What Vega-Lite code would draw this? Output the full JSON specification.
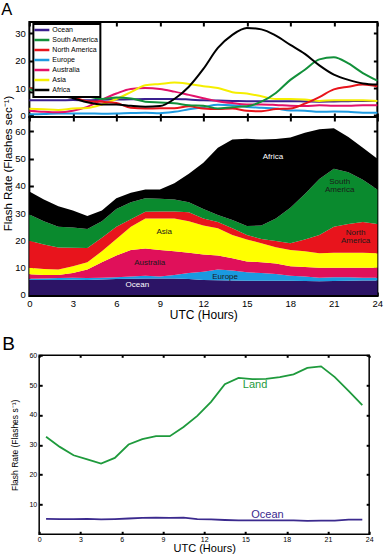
{
 "$schema": "https://vega.github.io/schema/vega-lite/v6.json",
 "padding": {"left": 0, "top": 0, "right": 0, "bottom": 0},
 "background": "white",
 "config": {
  "font": "Liberation Sans",
  "axis": {"domain": false, "grid": false, "tickColor": "black", "labelColor": "black", "titleColor": "black", "titleFontWeight": "normal", "labelFlush": false, "labelOverlap": false},
  "title": {"fontWeight": "normal", "color": "black", "anchor": "start", "frame": "group", "baseline": "alphabetic"},
  "view": {"stroke": "black"}
 },
 "datasets": {
  "regions": [
   {"hour":0,"region":"Ocean","rate":5.5},{"hour":0,"region":"Europe","rate":0.4},{"hour":0,"region":"Australia","rate":1.7},{"hour":0,"region":"Asia","rate":2.4},{"hour":0,"region":"North America","rate":9.9},{"hour":0,"region":"South America","rate":9.6},{"hour":0,"region":"Africa","rate":8.5},
   {"hour":1,"region":"Ocean","rate":5.5},{"hour":1,"region":"Europe","rate":0.5},{"hour":1,"region":"Australia","rate":1.3},{"hour":1,"region":"Asia","rate":2.2},{"hour":1,"region":"North America","rate":9.0},{"hour":1,"region":"South America","rate":8.5},{"hour":1,"region":"Africa","rate":8.0},
   {"hour":2,"region":"Ocean","rate":5.5},{"hour":2,"region":"Europe","rate":0.7},{"hour":2,"region":"Australia","rate":1.1},{"hour":2,"region":"Asia","rate":2.0},{"hour":2,"region":"North America","rate":8.1},{"hour":2,"region":"South America","rate":7.6},{"hour":2,"region":"Africa","rate":7.5},
   {"hour":3,"region":"Ocean","rate":5.6},{"hour":3,"region":"Europe","rate":0.7},{"hour":3,"region":"Australia","rate":1.7},{"hour":3,"region":"Asia","rate":2.5},{"hour":3,"region":"North America","rate":6.8},{"hour":3,"region":"South America","rate":7.4},{"hour":3,"region":"Africa","rate":6.3},
   {"hour":4,"region":"Ocean","rate":5.5},{"hour":4,"region":"Europe","rate":0.7},{"hour":4,"region":"Australia","rate":3.1},{"hour":4,"region":"Asia","rate":2.7},{"hour":4,"region":"North America","rate":5.2},{"hour":4,"region":"South America","rate":7.0},{"hour":4,"region":"Africa","rate":4.8},
   {"hour":5,"region":"Ocean","rate":5.7},{"hour":5,"region":"Europe","rate":0.6},{"hour":5,"region":"Australia","rate":5.7},{"hour":5,"region":"Asia","rate":4.0},{"hour":5,"region":"North America","rate":5.0},{"hour":5,"region":"South America","rate":6.0},{"hour":5,"region":"Africa","rate":4.0},
   {"hour":6,"region":"Ocean","rate":5.8},{"hour":6,"region":"Europe","rate":0.7},{"hour":6,"region":"Australia","rate":8.0},{"hour":6,"region":"Asia","rate":6.0},{"hour":6,"region":"North America","rate":4.5},{"hour":6,"region":"South America","rate":6.5},{"hour":6,"region":"Africa","rate":4.0},
   {"hour":7,"region":"Ocean","rate":5.9},{"hour":7,"region":"Europe","rate":0.9},{"hour":7,"region":"Australia","rate":9.7},{"hour":7,"region":"Asia","rate":8.5},{"hour":7,"region":"North America","rate":2.8},{"hour":7,"region":"South America","rate":6.2},{"hour":7,"region":"Africa","rate":3.5},
   {"hour":8,"region":"Ocean","rate":6.0},{"hour":8,"region":"Europe","rate":1.0},{"hour":8,"region":"Australia","rate":10.0},{"hour":8,"region":"Asia","rate":11.0},{"hour":8,"region":"North America","rate":2.5},{"hour":8,"region":"South America","rate":5.0},{"hour":8,"region":"Africa","rate":3.2},
   {"hour":9,"region":"Ocean","rate":6.0},{"hour":9,"region":"Europe","rate":0.8},{"hour":9,"region":"Australia","rate":9.7},{"hour":9,"region":"Asia","rate":11.5},{"hour":9,"region":"North America","rate":2.6},{"hour":9,"region":"South America","rate":4.7},{"hour":9,"region":"Africa","rate":3.4},
   {"hour":10,"region":"Ocean","rate":6.0},{"hour":10,"region":"Europe","rate":1.3},{"hour":10,"region":"Australia","rate":8.7},{"hour":10,"region":"Asia","rate":12.0},{"hour":10,"region":"North America","rate":2.6},{"hour":10,"region":"South America","rate":4.4},{"hour":10,"region":"Africa","rate":6.0},
   {"hour":11,"region":"Ocean","rate":5.8},{"hour":11,"region":"Europe","rate":2.2},{"hour":11,"region":"Australia","rate":7.5},{"hour":11,"region":"Asia","rate":11.5},{"hour":11,"region":"North America","rate":3.3},{"hour":11,"region":"South America","rate":3.7},{"hour":11,"region":"Africa","rate":10.5},
   {"hour":12,"region":"Ocean","rate":5.5},{"hour":12,"region":"Europe","rate":3.0},{"hour":12,"region":"Australia","rate":6.3},{"hour":12,"region":"Asia","rate":10.7},{"hour":12,"region":"North America","rate":2.5},{"hour":12,"region":"South America","rate":3.5},{"hour":12,"region":"Africa","rate":17.0},
   {"hour":13,"region":"Ocean","rate":5.4},{"hour":13,"region":"Europe","rate":3.9},{"hour":13,"region":"Australia","rate":5.2},{"hour":13,"region":"Asia","rate":10.0},{"hour":13,"region":"North America","rate":2.3},{"hour":13,"region":"South America","rate":2.5},{"hour":13,"region":"Africa","rate":24.7},
   {"hour":14,"region":"Ocean","rate":5.3},{"hour":14,"region":"Europe","rate":3.7},{"hour":14,"region":"Australia","rate":4.5},{"hour":14,"region":"Asia","rate":8.5},{"hour":14,"region":"North America","rate":2.5},{"hour":14,"region":"South America","rate":3.0},{"hour":14,"region":"Africa","rate":29.5},
   {"hour":15,"region":"Ocean","rate":5.2},{"hour":15,"region":"Europe","rate":3.1},{"hour":15,"region":"Australia","rate":4.0},{"hour":15,"region":"Asia","rate":8.0},{"hour":15,"region":"North America","rate":1.7},{"hour":15,"region":"South America","rate":3.3},{"hour":15,"region":"Africa","rate":32.0},
   {"hour":16,"region":"Ocean","rate":5.2},{"hour":16,"region":"Europe","rate":2.8},{"hour":16,"region":"Australia","rate":4.0},{"hour":16,"region":"Asia","rate":7.0},{"hour":16,"region":"North America","rate":1.5},{"hour":16,"region":"South America","rate":5.0},{"hour":16,"region":"Africa","rate":31.5},
   {"hour":17,"region":"Ocean","rate":5.2},{"hour":17,"region":"Europe","rate":2.5},{"hour":17,"region":"Australia","rate":3.8},{"hour":17,"region":"Asia","rate":6.0},{"hour":17,"region":"North America","rate":2.3},{"hour":17,"region":"South America","rate":8.2},{"hour":17,"region":"Africa","rate":29.2},
   {"hour":18,"region":"Ocean","rate":5.2},{"hour":18,"region":"Europe","rate":1.8},{"hour":18,"region":"Australia","rate":3.5},{"hour":18,"region":"Asia","rate":6.0},{"hour":18,"region":"North America","rate":2.5},{"hour":18,"region":"South America","rate":13.0},{"hour":18,"region":"Africa","rate":25.8},
   {"hour":19,"region":"Ocean","rate":5.1},{"hour":19,"region":"Europe","rate":1.7},{"hour":19,"region":"Australia","rate":3.4},{"hour":19,"region":"Asia","rate":5.8},{"hour":19,"region":"North America","rate":4.3},{"hour":19,"region":"South America","rate":16.7},{"hour":19,"region":"Africa","rate":22.5},
   {"hour":20,"region":"Ocean","rate":5.0},{"hour":20,"region":"Europe","rate":1.3},{"hour":20,"region":"Australia","rate":3.7},{"hour":20,"region":"Asia","rate":5.3},{"hour":20,"region":"North America","rate":6.7},{"hour":20,"region":"South America","rate":20.5},{"hour":20,"region":"Africa","rate":18.3},
   {"hour":21,"region":"Ocean","rate":5.1},{"hour":21,"region":"Europe","rate":1.4},{"hour":21,"region":"Australia","rate":3.5},{"hour":21,"region":"Asia","rate":5.5},{"hour":21,"region":"North America","rate":9.5},{"hour":21,"region":"South America","rate":21.3},{"hour":21,"region":"Africa","rate":14.9},
   {"hour":22,"region":"Ocean","rate":5.2},{"hour":22,"region":"Europe","rate":1.3},{"hour":22,"region":"Australia","rate":3.5},{"hour":22,"region":"Asia","rate":5.5},{"hour":22,"region":"North America","rate":10.5},{"hour":22,"region":"South America","rate":19.0},{"hour":22,"region":"Africa","rate":13.0},
   {"hour":23,"region":"Ocean","rate":5.3},{"hour":23,"region":"Europe","rate":1.0},{"hour":23,"region":"Australia","rate":3.7},{"hour":23,"region":"Asia","rate":5.5},{"hour":23,"region":"North America","rate":11.3},{"hour":23,"region":"South America","rate":15.5},{"hour":23,"region":"Africa","rate":11.7},
   {"hour":24,"region":"Ocean","rate":5.3},{"hour":24,"region":"Europe","rate":1.0},{"hour":24,"region":"Australia","rate":3.7},{"hour":24,"region":"Asia","rate":5.3},{"hour":24,"region":"North America","rate":10.7},{"hour":24,"region":"South America","rate":12.7},{"hour":24,"region":"Africa","rate":11.3}
  ],
  "areaLabels": [
   {"region":"Africa","text":"Africa","hour":16.8,"y":50.6},
   {"region":"South America","text":"South\nAmerica","hour":21.4,"y":41.5},
   {"region":"North America","text":"North\nAmerica","hour":22.5,"y":22.8},
   {"region":"Asia","text":"Asia","hour":9.3,"y":23.2},
   {"region":"Australia","text":"Australia","hour":8.3,"y":11.6},
   {"region":"Europe","text":"Europe","hour":13.5,"y":6.7},
   {"region":"Ocean","text":"Ocean","hour":7.45,"y":3.7}
  ],
  "landocean": [
   {"hour":0.5,"series":"Land","rate":32.7},{"hour":1.5,"series":"Land","rate":29.3},{"hour":2.5,"series":"Land","rate":26.5},{"hour":3.5,"series":"Land","rate":25.1},{"hour":4.5,"series":"Land","rate":23.7},{"hour":5.5,"series":"Land","rate":25.6},{"hour":6.5,"series":"Land","rate":30.1},{"hour":7.5,"series":"Land","rate":31.9},{"hour":8.5,"series":"Land","rate":32.9},{"hour":9.5,"series":"Land","rate":32.9},{"hour":10.5,"series":"Land","rate":36.0},{"hour":11.5,"series":"Land","rate":39.7},{"hour":12.5,"series":"Land","rate":44.4},{"hour":13.5,"series":"Land","rate":50.3},{"hour":14.5,"series":"Land","rate":52.4},{"hour":15.5,"series":"Land","rate":52.0},{"hour":16.5,"series":"Land","rate":52.1},{"hour":17.5,"series":"Land","rate":52.7},{"hour":18.5,"series":"Land","rate":53.6},{"hour":19.5,"series":"Land","rate":55.8},{"hour":20.5,"series":"Land","rate":56.3},{"hour":21.5,"series":"Land","rate":52.7},{"hour":22.5,"series":"Land","rate":48.1},{"hour":23.5,"series":"Land","rate":43.3},
   {"hour":0.5,"series":"Ocean","rate":5.2},{"hour":1.5,"series":"Ocean","rate":5.1},{"hour":2.5,"series":"Ocean","rate":5.1},{"hour":3.5,"series":"Ocean","rate":5.2},{"hour":4.5,"series":"Ocean","rate":5.0},{"hour":5.5,"series":"Ocean","rate":5.1},{"hour":6.5,"series":"Ocean","rate":5.3},{"hour":7.5,"series":"Ocean","rate":5.5},{"hour":8.5,"series":"Ocean","rate":5.6},{"hour":9.5,"series":"Ocean","rate":5.5},{"hour":10.5,"series":"Ocean","rate":5.6},{"hour":11.5,"series":"Ocean","rate":5.1},{"hour":12.5,"series":"Ocean","rate":5.0},{"hour":13.5,"series":"Ocean","rate":4.8},{"hour":14.5,"series":"Ocean","rate":4.7},{"hour":15.5,"series":"Ocean","rate":4.7},{"hour":16.5,"series":"Ocean","rate":4.7},{"hour":17.5,"series":"Ocean","rate":4.7},{"hour":18.5,"series":"Ocean","rate":4.7},{"hour":19.5,"series":"Ocean","rate":4.5},{"hour":20.5,"series":"Ocean","rate":4.6},{"hour":21.5,"series":"Ocean","rate":4.6},{"hour":22.5,"series":"Ocean","rate":4.9},{"hour":23.5,"series":"Ocean","rate":4.9}
  ],
  "bLabels": [
   {"series":"Land","hour":15.7,"y":50.2},
   {"series":"Ocean","hour":16.6,"y":6.6}
  ]
 },
 "spacing": 11.3,
 "center": true,
 "resolve": {"scale": {"color": "independent"}, "legend": {"color": "independent"}},
 "vconcat": [
  {
   "spacing": 0,
   "bounds": "flush",
   "resolve": {"scale": {"color": "independent"}, "legend": {"color": "independent"}},
   "vconcat": [
    {
     "width": 348, "height": 95,
     "title": {"text": "A", "fontSize": 16.5, "dx": -28, "offset": 2.7},
     "view": {"stroke": "black", "strokeWidth": 2},
     "data": {"name": "regions"},
     "layer": [
      {
       "mark": {"type": "line", "strokeWidth": 2, "interpolate": "monotone"},
       "encoding": {
        "x": {"field": "hour", "type": "quantitative", "scale": {"domain": [0, 24], "nice": false},
              "axis": {"values": [0,3,6,9,12,15,18,21,24], "labels": false, "title": null, "tickSize": -4, "tickWidth": 2}},
        "y": {"field": "rate", "type": "quantitative", "scale": {"domain": [-0.6, 34.2], "nice": false, "zero": false},
              "axis": {"values": [0,10,20,30], "title": null, "tickSize": -4, "tickWidth": 2, "labelPadding": 8, "labelFontSize": 9.5}},
        "color": {"field": "region", "type": "nominal",
                  "scale": {"domain": ["Ocean","South America","North America","Europe","Australia","Asia","Africa"],
                            "range": ["#3a1f8f","#12903a","#e8141c","#1e9ae0","#e3116a","#f5ee00","#000000"]},
                  "legend": {"orient": "none", "legendX": 4, "legendY": 2, "title": null,
                             "symbolType": "M-2,0H4", "symbolSize": 25, "symbolStrokeWidth": 2.5,
                             "labelFontSize": 7, "labelOffset": 9, "rowPadding": 0, "padding": 2,
                             "fillColor": "white", "strokeColor": "black", "labelColor": "black",
                             "encode": {"legend": {"update": {"strokeWidth": {"value": 2}}}}}}
       }
      },
      {
       "mark": {"type": "point", "opacity": 0},
       "encoding": {
        "x": {"field": "hour", "type": "quantitative", "axis": {"orient": "top", "values": [0,3,6,9,12,15,18,21,24], "labels": false, "title": null, "tickSize": -4, "tickWidth": 2}},
        "y": {"field": "rate", "type": "quantitative", "axis": {"orient": "right", "values": [0,10,20,30], "labels": false, "title": null, "tickSize": -4, "tickWidth": 2}}
       }
      }
     ],
     "resolve": {"axis": {"x": "independent", "y": "independent"}}
    },
    {
     "width": 348, "height": 179,
     "view": {"stroke": "black", "strokeWidth": 2},
     "layer": [
      {
       "data": {"name": "regions"},
       "transform": [{"calculate": "indexof(['Ocean','Europe','Australia','Asia','North America','South America','Africa'], datum.region)", "as": "stackOrder"}],
       "mark": {"type": "area"},
       "encoding": {
        "x": {"field": "hour", "type": "quantitative", "scale": {"domain": [0, 24], "nice": false},
              "axis": {"values": [0,3,6,9,12,15,18,21,24], "title": "UTC (Hours)", "titleFontSize": 12, "titlePadding": 1.5, "tickSize": -4, "tickWidth": 2, "labelPadding": 6.5, "labelFontSize": 9.5}},
        "y": {"field": "rate", "type": "quantitative", "stack": "zero", "scale": {"domain": [-0.4, 65.3], "nice": false, "zero": false},
              "axis": {"values": [0,10,20,30,40,50,60], "title": "Flash Rate (Flashes sec⁻¹)", "titleFontSize": 11.5, "titlePadding": 1, "titleY": 46, "tickSize": -4, "tickWidth": 2, "labelPadding": 8, "labelFontSize": 9.5}},
        "color": {"field": "region", "type": "nominal",
                  "scale": {"domain": ["Ocean","South America","North America","Europe","Australia","Asia","Africa"],
                            "range": ["#2c1466","#0a8a2e","#e8141c","#1a9ae0","#e0105a","#ffff00","#000000"]},
                  "legend": null},
        "order": {"field": "stackOrder", "type": "quantitative", "sort": "ascending"}
       }
      },
      {
       "data": {"name": "regions"},
       "mark": {"type": "point", "opacity": 0},
       "encoding": {
        "x": {"field": "hour", "type": "quantitative", "axis": {"orient": "top", "values": [0,3,6,9,12,15,18,21,24], "labels": false, "title": null, "tickSize": -4, "tickWidth": 2}},
        "y": {"field": "rate", "type": "quantitative", "axis": {"orient": "right", "values": [0,10,20,30,40,50,60], "labels": false, "title": null, "tickSize": -4, "tickWidth": 2}}
       }
      },
      {
       "data": {"name": "areaLabels"},
       "transform": [{"filter": {"field": "region", "oneOf": ["Africa", "Ocean"]}}],
       "mark": {"type": "text", "fontSize": 8, "color": "white", "lineBreak": "\n", "lineHeight": 8.5},
       "encoding": {
        "x": {"field": "hour", "type": "quantitative", "axis": null},
        "y": {"field": "y", "type": "quantitative", "axis": null},
        "text": {"field": "text"}
       }
      },
      {
       "data": {"name": "areaLabels"},
       "transform": [{"filter": {"not": {"field": "region", "oneOf": ["Africa", "Ocean"]}}}],
       "mark": {"type": "text", "fontSize": 8, "color": "#1a1a1a", "lineBreak": "\n", "lineHeight": 8.5},
       "encoding": {
        "x": {"field": "hour", "type": "quantitative", "axis": null},
        "y": {"field": "y", "type": "quantitative", "axis": null},
        "text": {"field": "text"}
       }
      }
     ],
     "resolve": {"axis": {"x": "independent", "y": "independent"}}
    }
   ]
  },
  {
   "width": 330, "height": 179,
   "title": {"text": "B", "fontSize": 19, "dx": -37, "offset": -2.5},
   "view": {"stroke": "black", "strokeWidth": 1.5},
   "layer": [
    {
     "data": {"name": "landocean"},
     "mark": {"type": "line", "strokeWidth": 1.8},
     "encoding": {
      "x": {"field": "hour", "type": "quantitative", "scale": {"domain": [0, 24], "nice": false},
            "axis": {"values": [0,3,6,9,12,15,18,21,24], "title": "UTC (Hours)", "titleFontSize": 11, "titlePadding": 0.5, "tickSize": -3, "tickWidth": 2, "labelPadding": 4, "labelFontSize": 7}},
      "y": {"field": "rate", "type": "quantitative", "scale": {"domain": [0, 60], "nice": false},
            "axis": {"values": [10,20,30,40,50,60], "title": "Flash Rate (Flashes s⁻¹)", "titleFontSize": 8.5, "titlePadding": 9, "tickSize": -3, "tickWidth": 2, "labelPadding": 5.5, "labelFontSize": 7}},
      "color": {"field": "series", "type": "nominal", "scale": {"domain": ["Land", "Ocean"], "range": ["#1e9a3c", "#3b2a8e"]}, "legend": null}
     }
    },
    {
     "data": {"name": "landocean"},
     "mark": {"type": "point", "opacity": 0},
     "encoding": {
      "x": {"field": "hour", "type": "quantitative", "axis": {"orient": "top", "values": [0,3,6,9,12,15,18,21,24], "labels": false, "title": null, "tickSize": -2, "tickWidth": 2}},
      "y": {"field": "rate", "type": "quantitative", "axis": {"orient": "right", "values": [10,20,30,40,50,60], "labels": false, "title": null, "tickSize": -3, "tickWidth": 2}}
     }
    },
    {
     "data": {"name": "bLabels"},
     "mark": {"type": "text", "fontSize": 11},
     "encoding": {
      "x": {"field": "hour", "type": "quantitative", "axis": null},
      "y": {"field": "y", "type": "quantitative", "axis": null},
      "text": {"field": "series"},
      "color": {"field": "series", "type": "nominal", "legend": null}
     }
    }
   ],
   "resolve": {"axis": {"x": "independent", "y": "independent"}}
  }
 ]
}
